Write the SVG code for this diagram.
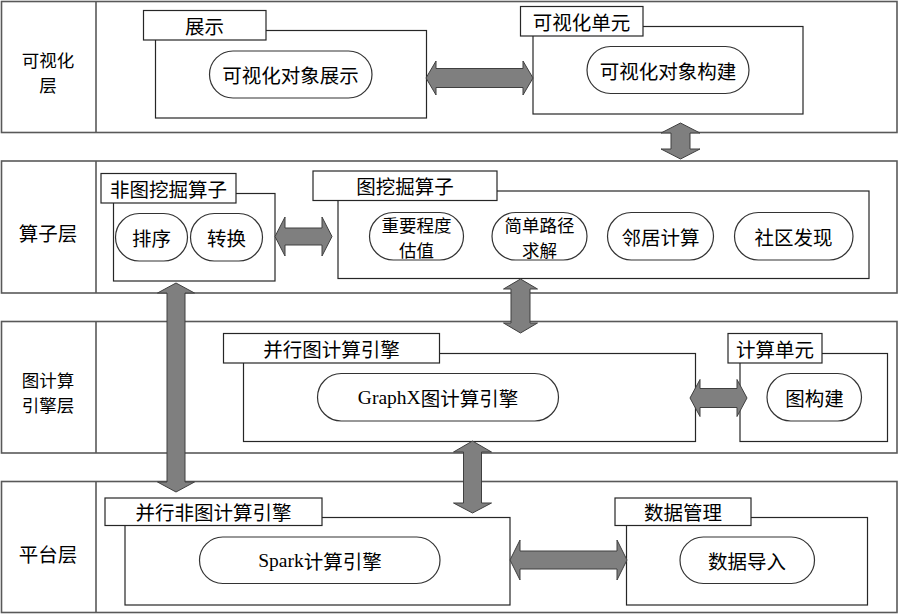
<svg xmlns="http://www.w3.org/2000/svg" width="899" height="615" viewBox="0 0 899 615">
<style>
.layer{fill:#fff;stroke:#595959;stroke-width:1.6}
.div{stroke:#595959;stroke-width:1.6}
.inner{fill:#fff;stroke:#262626;stroke-width:1.2}
.lbl{fill:#fff;stroke:#262626;stroke-width:1.2}
.pill{fill:#fff;stroke:#333;stroke-width:1.2}
.arrow{fill:#7f7f7f;stroke:#404040;stroke-width:1}
text{font-family:'Noto Sans CJK SC','Noto Sans',sans-serif;font-size:19.5px;fill:#000;text-anchor:middle;dominant-baseline:central}
text.ml{font-size:17.5px}
.lat{font-family:'Liberation Serif','Noto Sans CJK SC',serif}
</style>
<rect width="899" height="615" fill="#fff"/>
<g id="layer-vis">
<rect class="layer" x="1.5" y="1.5" width="895.5" height="131"/>
<line class="div" x1="96" y1="1.5" x2="96" y2="132.5"/>
<text class="ml" x="48" y="58.5"><tspan x="48" y="58.5">可视化</tspan><tspan x="48" y="84">层</tspan></text>
</g>
<g id="layer-op">
<rect class="layer" x="1.5" y="161" width="895.5" height="132"/>
<line class="div" x1="96" y1="161" x2="96" y2="293"/>
<text x="48" y="232">算子层</text>
</g>
<g id="layer-graph">
<rect class="layer" x="1.5" y="321.5" width="895.5" height="131.5"/>
<line class="div" x1="96" y1="321.5" x2="96" y2="453"/>
<text class="ml" x="48" y="378.5"><tspan x="48" y="378.5">图计算</tspan><tspan x="48" y="404">引擎层</tspan></text>
</g>
<g id="layer-platform">
<rect class="layer" x="1.5" y="481.5" width="895.5" height="131"/>
<line class="div" x1="96" y1="481.5" x2="96" y2="612.5"/>
<text x="48" y="553">平台层</text>
</g>

<g id="show">
<rect class="inner" x="155.5" y="30.5" width="271" height="87.5"/>
<rect class="lbl" x="143.5" y="10.5" width="122.5" height="29.5"/>
<text x="204.5" y="25">展示</text>
</g>
<g id="show-obj">
<rect class="pill" x="209.5" y="51" width="162.5" height="47" rx="23.5"/>
<text x="290.5" y="74.5">可视化对象展示</text>
</g>
<g id="vis-unit">
<rect class="inner" x="533" y="26.5" width="270" height="87.5"/>
<rect class="lbl" x="520.5" y="6.5" width="122.5" height="29.5"/>
<text x="581.5" y="21">可视化单元</text>
</g>
<g id="build-obj">
<rect class="pill" x="587" y="46.5" width="162" height="47" rx="23.5"/>
<text x="668" y="70">可视化对象构建</text>
</g>

<g id="nongraph-op">
<rect class="inner" x="113.5" y="193.5" width="161.5" height="87.5"/>
<rect class="lbl" x="101" y="173.5" width="135" height="29.5"/>
<text x="168.5" y="188">非图挖掘算子</text>
</g>
<g id="sort">
<rect class="pill" x="115.5" y="213.5" width="72" height="47.5" rx="23.75"/>
<text x="151.5" y="237">排序</text>
</g>
<g id="convert">
<rect class="pill" x="190.5" y="213.5" width="72" height="47.5" rx="23.75"/>
<text x="226.5" y="237">转换</text>
</g>
<g id="graph-op">
<rect class="inner" x="338" y="191" width="531" height="87.5"/>
<rect class="lbl" x="313" y="171" width="184" height="29.5"/>
<text x="405" y="185.5">图挖掘算子</text>
</g>
<g id="importance">
<rect class="pill" x="369.5" y="212.5" width="94" height="47.5" rx="23.75"/>
<text class="ml" x="416.5" y="223.5"><tspan x="416.5" y="223.5">重要程度</tspan><tspan x="416.5" y="249">估值</tspan></text>
</g>
<g id="path">
<rect class="pill" x="492" y="212.5" width="95" height="47.5" rx="23.75"/>
<text class="ml" x="539.5" y="223.5"><tspan x="539.5" y="223.5">简单路径</tspan><tspan x="539.5" y="249">求解</tspan></text>
</g>
<g id="neighbor">
<rect class="pill" x="607.5" y="212.5" width="106" height="47.5" rx="23.75"/>
<text x="660.5" y="236.5">邻居计算</text>
</g>
<g id="community">
<rect class="pill" x="734.5" y="212.5" width="118.5" height="47.5" rx="23.75"/>
<text x="793.5" y="236.5">社区发现</text>
</g>

<g id="parallel-graph">
<rect class="inner" x="243.5" y="353.5" width="452" height="88"/>
<rect class="lbl" x="223.5" y="333.5" width="216" height="29.5"/>
<text x="331.5" y="348">并行图计算引擎</text>
</g>
<g id="graphx">
<rect class="pill" x="317.5" y="373.5" width="241" height="47.5" rx="23.75"/>
<text x="438" y="397"><tspan class="lat">GraphX</tspan>图计算引擎</text>
</g>
<g id="compute-unit">
<rect class="inner" x="740" y="353.5" width="147.5" height="88"/>
<rect class="lbl" x="728" y="333.5" width="94" height="29.5"/>
<text x="775" y="348">计算单元</text>
</g>
<g id="graph-build">
<rect class="pill" x="767" y="373.5" width="94.5" height="47.5" rx="23.75"/>
<text x="814.5" y="397">图构建</text>
</g>

<g id="parallel-nongraph">
<rect class="inner" x="125" y="517.5" width="385" height="87.5"/>
<rect class="lbl" x="105" y="498" width="217" height="27.5"/>
<text x="213.5" y="511.5">并行非图计算引擎</text>
</g>
<g id="spark">
<rect class="pill" x="199.5" y="537" width="240.5" height="46.5" rx="23.25"/>
<text x="320" y="560"><tspan class="lat">Spark</tspan>计算引擎</text>
</g>
<g id="data-mgmt">
<rect class="inner" x="626.5" y="517.5" width="241" height="87.5"/>
<rect class="lbl" x="615" y="498" width="136" height="27.5"/>
<text x="683" y="511.5">数据管理</text>
</g>
<g id="data-import">
<rect class="pill" x="680" y="537" width="134.5" height="46.5" rx="23.25"/>
<text x="747" y="560">数据导入</text>
</g>

<g id="connectors">
<path class="arrow" d="M426 78 L436 61 L436 68.5 L523 68.5 L523 61 L533 78 L523 95 L523 87.5 L436 87.5 L436 95 Z"/>
<path class="arrow" d="M661 133 L680.5 123 L700 133 L690 133 L690 149 L700 149 L680.5 159 L661 149 L671 149 L671 133 Z"/>
<path class="arrow" d="M275 236.5 L285 217 L285 228 L322 228 L322 217 L332 236.5 L322 256 L322 245 L285 245 L285 256 Z"/>
<path class="arrow" d="M503.5 289 L520.5 279 L537.5 289 L530 289 L530 323 L537.5 323 L520.5 333 L503.5 323 L511 323 L511 289 Z"/>
<path class="arrow" d="M157.5 293 L176 283 L194.5 293 L185 293 L185 482 L194.5 482 L176 492 L157.5 482 L167 482 L167 293 Z"/>
<path class="arrow" d="M690 398 L700 379.5 L700 388.5 L737 388.5 L737 379.5 L747 398 L737 416.5 L737 407.5 L700 407.5 L700 416.5 Z"/>
<path class="arrow" d="M453.5 452 L472.5 441 L491.5 452 L481.5 452 L481.5 503 L491.5 503 L472.5 513 L453.5 503 L463.5 503 L463.5 452 Z"/>
<path class="arrow" d="M510 560 L520 540 L520 551 L617 551 L617 540 L627 560 L617 580 L617 569 L520 569 L520 580 Z"/>
</g>
</svg>
